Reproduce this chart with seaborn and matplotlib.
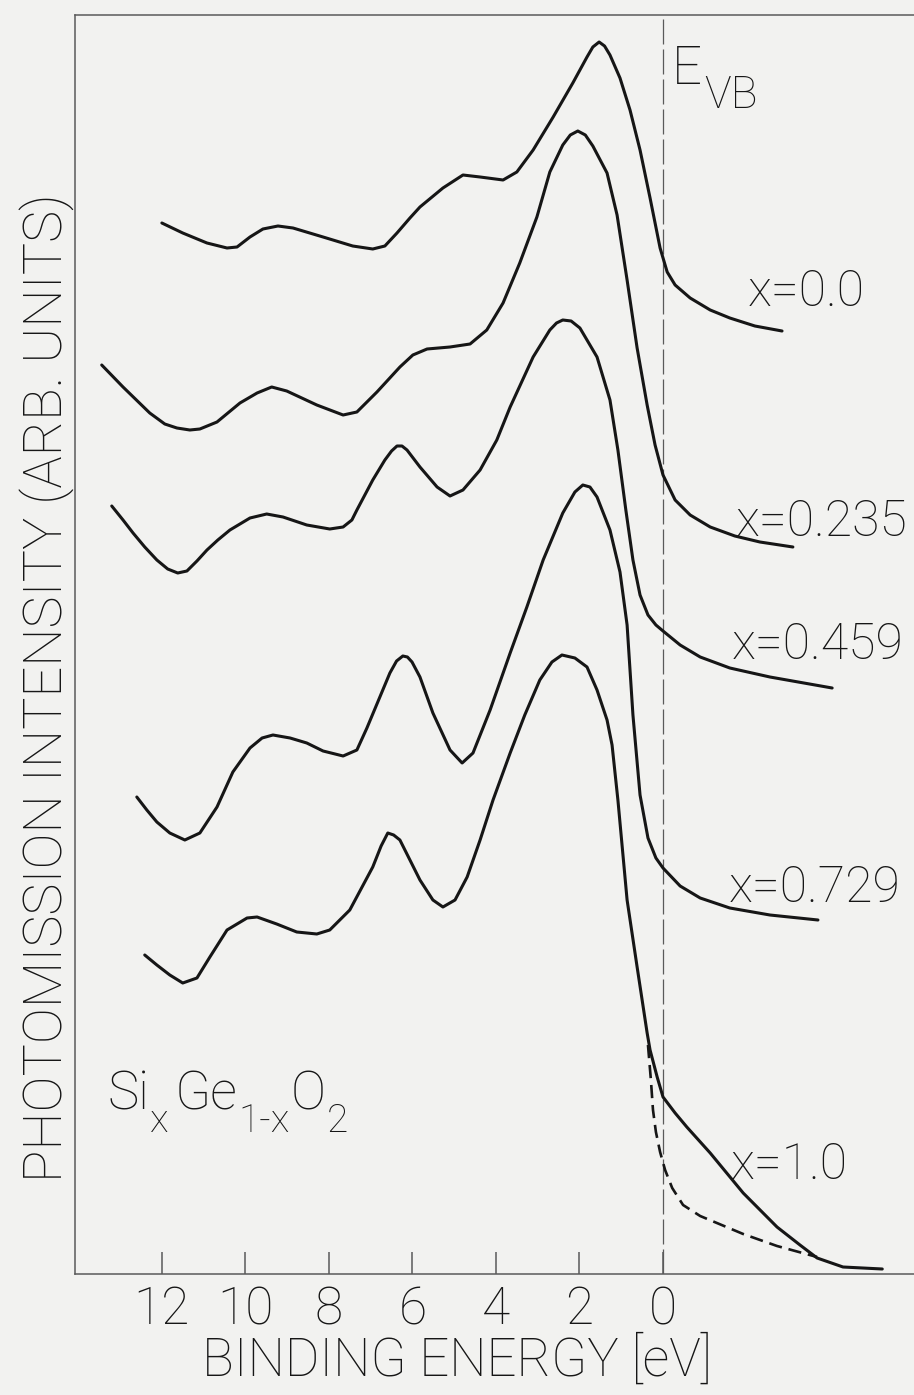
import matplotlib
matplotlib.use("Agg")
import matplotlib.pyplot as plt
import seaborn as sns
from matplotlib import font_manager

# Valence-band photoemission spectra of Si(x)Ge(1-x)O2.
# Binding energy in eV, intensity in arbitrary units (curves offset vertically).
energy_x000 = [12.00, 11.50, 10.92, 10.44, 10.20, 9.89, 9.58, 9.22, 8.86, 8.14,
               7.43, 6.95, 6.66, 6.37, 6.06, 5.82, 5.27, 4.79, 4.38, 3.83,
               3.50, 3.11, 2.63, 2.16, 1.82, 1.68, 1.53, 1.40, 1.27, 1.03,
               0.79, 0.55, 0.31, 0.07, -0.10, -0.29, -0.65, -1.13, -1.60, -2.20,
               -2.85]
intensity_x000 = [1051, 1041, 1031, 1026, 1027, 1037, 1045, 1048, 1046, 1037,
                  1028, 1025, 1028, 1041, 1056, 1067, 1086, 1099, 1097, 1094,
                  1102, 1124, 1157, 1191, 1217, 1227, 1232, 1228, 1219, 1196,
                  1164, 1124, 1076, 1026, 1002, 989, 976, 964, 956, 948,
                  943]

energy_x0235 = [13.44, 12.93, 12.29, 11.93, 11.64, 11.33, 11.09, 10.68, 10.13, 9.72,
                9.37, 9.01, 8.29, 7.66, 7.33, 6.85, 6.30, 5.99, 5.65, 5.10,
                4.62, 4.22, 3.83, 3.43, 3.02, 2.71, 2.40, 2.22, 2.04, 1.86,
                1.68, 1.34, 1.10, 0.86, 0.62, 0.38, 0.19, 0.00, -0.29, -0.65,
                -1.13, -1.72, -2.32, -3.11]
intensity_x0235 = [909, 887, 861, 850, 846, 844, 845, 852, 871, 881,
                   887, 883, 869, 859, 862, 882, 907, 919, 925, 927,
                   930, 944, 971, 1011, 1057, 1102, 1129, 1139, 1143, 1139,
                   1128, 1101, 1059, 994, 926, 869, 829, 799, 774, 759,
                   747, 738, 732, 727]

energy_x0459 = [13.20, 12.93, 12.69, 12.41, 12.12, 11.86, 11.62, 11.40, 11.16, 10.92,
                10.66, 10.37, 9.89, 9.49, 9.10, 8.53, 7.98, 7.66, 7.45, 7.33,
                7.14, 6.95, 6.66, 6.50, 6.37, 6.25, 6.13, 5.82, 5.41, 5.10,
                4.79, 4.38, 3.98, 3.66, 3.11, 2.71, 2.55, 2.40, 2.20, 1.99,
                1.58, 1.27, 1.08, 0.89, 0.72, 0.55, 0.36, 0.17, 0.00, -0.41,
                -0.89, -1.60, -2.56, -4.05]
intensity_x0459 = [768, 754, 741, 727, 714, 705, 701, 703, 713, 724,
                   734, 744, 756, 760, 757, 749, 745, 747, 754, 764,
                   779, 794, 814, 823, 828, 828, 824, 807, 787, 778,
                   784, 804, 834, 867, 917, 944, 951, 954, 953, 946,
                   917, 874, 824, 764, 714, 679, 659, 649, 643, 629,
                   617, 606, 597, 586]

energy_x0729 = [12.60, 12.36, 12.12, 11.81, 11.45, 11.09, 10.68, 10.30, 9.89, 9.60,
                9.34, 8.93, 8.53, 8.14, 7.66, 7.33, 7.09, 6.83, 6.54, 6.38,
                6.23, 6.12, 6.01, 5.82, 5.51, 5.10, 4.81, 4.55, 4.14, 3.66,
                3.26, 2.87, 2.40, 2.11, 1.92, 1.75, 1.58, 1.27, 1.03, 0.86,
                0.72, 0.55, 0.36, 0.17, 0.00, -0.41, -0.89, -1.60, -2.56, -3.71]
intensity_x0729 = [477, 464, 452, 441, 434, 441, 467, 502, 526, 536,
                   539, 536, 531, 523, 518, 524, 546, 572, 601, 613,
                   618, 617, 612, 597, 561, 524, 511, 521, 564, 621,
                   667, 714, 761, 782, 789, 787, 777, 744, 702, 649,
                   559, 479, 436, 416, 406, 388, 376, 366, 359, 354]

energy_x100 = [12.41, 12.12, 11.81, 11.50, 11.16, 10.85, 10.44, 9.96, 9.72, 9.25,
               8.77, 8.29, 7.98, 7.50, 6.95, 6.75, 6.59, 6.45, 6.30, 5.82,
               5.51, 5.27, 4.98, 4.69, 4.38, 4.07, 3.66, 3.31, 2.95, 2.66,
               2.42, 2.11, 1.82, 1.58, 1.34, 1.22, 1.08, 0.86, 0.62, 0.38,
               0.31, 0.14, 0.00, -0.29, -0.57, -1.13, -1.92, -2.73, -3.28, -3.69,
               -4.31, -5.25]
intensity_x100 = [319, 309, 299, 291, 296, 317, 344, 356, 357, 350,
                  342, 340, 344, 364, 407, 428, 441, 439, 434, 394,
                  374, 367, 374, 397, 434, 474, 521, 559, 594, 612,
                  619, 616, 607, 584, 554, 529, 474, 374, 307, 241,
                  224, 197, 177, 161, 147, 121, 81, 47, 29, 16,
                  7, 5]

# Alternative (dashed) edge of the x=1.0 spectrum
energy_x100_edge = [0.36, 0.29, 0.24, 0.17, 0.07, -0.05, -0.22, -0.48, -0.89, -1.92,
                    -2.73, -3.69]
intensity_x100_edge = [229, 194, 164, 142, 122, 104, 86, 69, 58, 40, 28, 17]

compositions = ["x=0.0", "x=0.235", "x=0.459", "x=0.729", "x=1.0"]
energy_ticks = [12, 10, 8, 6, 4, 2, 0]
tick_labels = ["12", "10", "8", "6", "4", "2", "0"]

W, H = 914, 1395
PAPER = "#f2f2f0"
INK = "#161616"
FRAME = "#5a5a5a"

sns.set_theme(style="white")
available = {f.name for f in font_manager.fontManager.ttflist}
base_font = "Roboto" if "Roboto" in available else "DejaVu Sans"
plt.rcParams["font.family"] = [base_font, "DejaVu Sans"]

fig = plt.figure(figsize=(W / 100, H / 100), dpi=100, facecolor=PAPER)
ax = fig.add_axes([75 / W, (H - 1274) / H, (W - 75) / W, (1274 - 15) / H])
ax.set_facecolor(PAPER)

spectra = [
    (energy_x000, intensity_x000),
    (energy_x0235, intensity_x0235),
    (energy_x0459, intensity_x0459),
    (energy_x0729, intensity_x0729),
    (energy_x100, intensity_x100),
]
for energy, intensity in spectra:
    sns.lineplot(x=energy, y=intensity, sort=False, estimator=None, ax=ax,
                 color=INK, linewidth=2.2, solid_joinstyle="round",
                 solid_capstyle="round")

sns.lineplot(x=energy_x100_edge, y=intensity_x100_edge, sort=False,
             estimator=None, ax=ax, color=INK, linewidth=1.9)
ax.lines[-1].set_dashes([5, 2.6])

# valence-band edge reference
ax.axvline(0, color=FRAME, linewidth=0.9, dashes=(20, 4), zorder=0)

ax.set_xlim(14.08, -6.01)
ax.set_ylim(0, 1259)
ax.set_xticks(energy_ticks)
ax.set_xticklabels(tick_labels, fontsize=37, fontweight="light", color=INK)
ax.set_yticks([])
ax.tick_params(axis="x", direction="in", length=16, width=1.1, color=FRAME,
               pad=8, bottom=True, top=False)
for side in ["left", "bottom", "top"]:
    ax.spines[side].set_color(FRAME)
    ax.spines[side].set_linewidth(1.1)
ax.spines["right"].set_visible(False)

ax.set_xlabel("BINDING ENERGY [eV]", fontsize=38, fontweight="light", color=INK)
ax.xaxis.set_label_coords((457 - 75) / 839, (1274 - 1360) / 1259)
ax.xaxis.label.set_va("center")
ax.set_ylabel("PHOTOMISSION INTENSITY (ARB. UNITS)", fontsize=39,
              fontweight="light", color=INK)
ax.yaxis.set_label_coords((47 - 75) / 839, (1274 - 688) / 1259)
ax.yaxis.label.set_va("center")


def fig_text(px, py, s, size, ha="center", va="center"):
    return fig.text(px / W, 1 - py / H, s, fontsize=size, fontweight="light",
                    color=INK, ha=ha, va=va)


label_spots = [(806, 292), (822, 522), (818, 645), (815, 888), (789, 1165)]
for name, (px, py) in zip(compositions, label_spots):
    fig_text(px, py, name, 36)

renderer = fig.canvas.get_renderer()


def text_run(pieces, x_px, base_px):
    x = x_px
    for s, size, drop, gap in pieces:
        t = fig_text(x, base_px + drop, s, size, ha="left", va="baseline")
        x = t.get_window_extent(renderer).x1 + gap


text_run([("E", 38, 0, 2), ("VB", 32, 24, 0)], 672, 84)
text_run([("Si", 38, 0, 1), ("x", 28, 22, 6), ("Ge", 38, 0, 1),
          ("1-x", 28, 22, 1), ("O", 38, 0, 1), ("2", 28, 22, 0)], 107, 1110)

fig.savefig("out.png", dpi=100, facecolor=PAPER)
